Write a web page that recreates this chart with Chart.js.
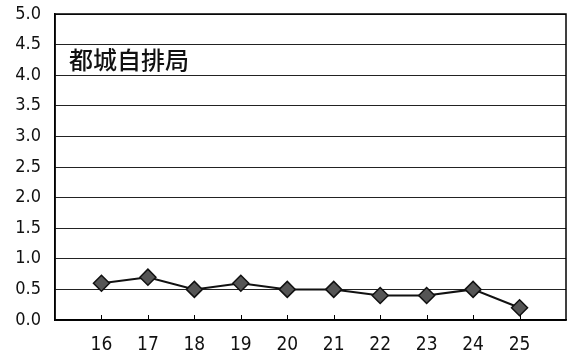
<!DOCTYPE html>
<html>
<head>
<meta charset="utf-8">
<script src="https://cdn.jsdelivr.net/npm/chart.js@4"></script>
<style>
  html, body { margin: 0; padding: 0; background: #fff; }
  #wrap { width: 569px; height: 361px; }
</style>
</head>
<body>
<div id="wrap"><canvas id="chart" width="569" height="361"></canvas></div>
<script>
// data
const years = [16, 17, 18, 19, 20, 21, 22, 23, 24, 25];
const values = [0.6, 0.7, 0.5, 0.6, 0.5, 0.5, 0.4, 0.4, 0.5, 0.2];
const stationName = '都城自排局';

const points = years.map((y, i) => ({ x: y, y: values[i] }));
const numFont = '"DejaVu Sans Condensed", "Liberation Sans"';

// title drawn inside the plot, plus inward tick marks on the x axis
const insidePlugin = {
    id: 'inside',
    afterDraw(chart) {
        const ctx = chart.ctx;
        const area = chart.chartArea;
        const xs = chart.scales.x;
        ctx.save();
        ctx.strokeStyle = '#000';
        ctx.lineWidth = 1;
        years.forEach(function(y) {
            const px = Math.round(xs.getPixelForValue(y)) + 0.5;
            ctx.beginPath();
            ctx.moveTo(px, area.bottom);
            ctx.lineTo(px, area.bottom - 5);
            ctx.stroke();
        });
        ctx.fillStyle = '#111';
        ctx.font = '500 24px "Noto Sans CJK JP"';
        ctx.textBaseline = 'middle';
        ctx.fillText(stationName, area.left + 14, area.top + 46);
        ctx.restore();
    }
};

const ctx = document.getElementById('chart').getContext('2d');
const chart = new Chart(ctx, {
    type: 'line',
    data: {
        datasets: [{
            data: points,
            borderColor: '#111',
            borderWidth: 2,
            pointStyle: 'rectRot',
            pointRadius: 8,
            pointBackgroundColor: '#555',
            pointBorderColor: '#111',
            pointBorderWidth: 1.5,
            tension: 0
        }]
    },
    options: {
        responsive: false,
        animation: false,
        layout: { autoPadding: false, padding: { top: 14, right: 3, left: 0, bottom: 0 } },
        plugins: {
            legend: { display: false },
            tooltip: { enabled: false }
        },
        scales: {
            x: {
                type: 'linear',
                min: 15,
                max: 26,
                afterBuildTicks(scale) {
                    scale.ticks = years.map(v => ({ value: v }));
                },
                afterFit(scale) {
                    scale.height = 41;
                    scale.paddingLeft = 0;
                    scale.paddingRight = 0;
                },
                grid: { display: false },
                border: { color: '#000', width: 1.5 },
                ticks: {
                    color: '#111',
                    font: { family: numFont, size: 19 },
                    padding: 6,
                    callback: v => String(v)
                }
            },
            y: {
                min: 0,
                max: 5,
                afterFit(scale) {
                    scale.width = 55;
                    scale.paddingTop = 0;
                    scale.paddingBottom = 0;
                },
                grid: { color: '#222', lineWidth: 1, drawTicks: false },
                border: { color: '#000', width: 1.5 },
                ticks: {
                    stepSize: 0.5,
                    color: '#111',
                    padding: 14,
                    font: { family: numFont, size: 18 },
                    callback: v => v.toFixed(1)
                }
            }
        }
    },
    plugins: [insidePlugin, {
        id: 'frame',
        afterDraw(chart) {
            const a = chart.chartArea;
            const c = chart.ctx;
            c.save();
            c.strokeStyle = '#000';
            c.lineWidth = 1.5;
            c.strokeRect(a.left, a.top, a.right - a.left, a.bottom - a.top);
            c.restore();
        }
    }]
});
</script>
</body>
</html>
